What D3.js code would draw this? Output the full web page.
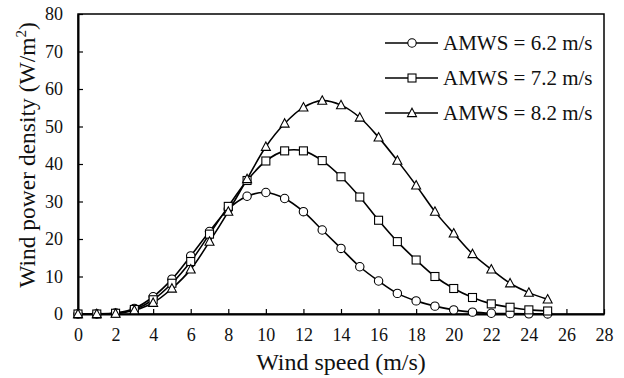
<!DOCTYPE html>
<html>
<head>
<meta charset="utf-8">
<script src="https://cdn.jsdelivr.net/npm/d3@7"></script>
</head>
<body style="margin:0">
<script>
// data ---------------------------------------------------------------------------------------
const windSpeed = [0, 1, 2, 3, 4, 5, 6, 7, 8, 9, 10, 11, 12, 13, 14, 15, 16, 17, 18, 19, 20, 21, 22, 23, 24, 25];
const amws62 = [0, 0, 0.3, 1.5, 4.6, 9.3, 15.5, 22, 28, 31.4, 32.4, 30.8, 27.3, 22.4, 17.5, 12.6, 8.8, 5.5, 3.5, 2.1, 1.1, 0.5, 0.2, 0.1, 0.05, 0.02];
const amws72 = [0, 0, 0.2, 1.2, 3.8, 8.2, 14, 21.3, 28.7, 35.6, 40.8, 43.5, 43.5, 40.9, 36.6, 31.2, 25, 19.3, 14.4, 10, 6.8, 4.4, 2.7, 1.8, 1.1, 0.8];
const amws82 = [0, 0, 0.1, 1.0, 3.0, 6.8, 11.9, 19.3, 27.3, 36, 44.6, 50.8, 55.1, 56.9, 55.7, 52.4, 47.1, 40.9, 34.3, 27.3, 21.5, 16, 11.9, 8.2, 5.7, 3.9];
const seriesNames = ['AMWS = 6.2 m/s', 'AMWS = 7.2 m/s', 'AMWS = 8.2 m/s'];
const markerTypes = ['circle', 'square', 'triangle'];
const xTicks = d3.range(0, 29, 2);
const yTicks = d3.range(0, 81, 10);
// --------------------------------------------------------------------------------------------
const width = 624;
const height = 378;
const margin = {left: 78, right: 20, top: 14, bottom: 64};
const serif = 'Liberation Serif';

const svg = d3.select('body').append('svg')
  .attr('width', width)
  .attr('height', height)
  .attr('font-family', serif);

const x = d3.scaleLinear().domain([0, 28]).range([margin.left, width - margin.right]);
const y = d3.scaleLinear().domain([0, 80]).range([height - margin.bottom, margin.top]);

// frame -----------------------------------------------------------------------------------
svg.append('rect')
  .attr('x', x(0))
  .attr('y', y(80))
  .attr('width', x(28) - x(0))
  .attr('height', y(0) - y(80))
  .attr('fill', 'none')
  .attr('stroke', '#000')
  .attr('stroke-width', 1.5);

// axes ------------------------------------------------------------------------------------
const xAxis = svg.append('g')
  .attr('transform', 'translate(0,' + y(0) + ')')
  .call(d3.axisBottom(x).tickValues(xTicks).tickSizeInner(-5).tickSizeOuter(0).tickPadding(14));
const yAxis = svg.append('g')
  .attr('transform', 'translate(' + x(0) + ',0)')
  .call(d3.axisLeft(y).tickValues(yTicks).tickSizeInner(-5).tickSizeOuter(0).tickPadding(15));
[xAxis, yAxis].forEach(a => {
  a.attr('font-family', serif).attr('font-size', 18);
  a.select('.domain').attr('stroke-width', 2);
  a.selectAll('.tick line').attr('stroke-width', 1.2);
  a.selectAll('.tick text')
    .attr('font-family', serif)
    .attr('font-size', 18)
    .attr('fill', '#111');
});

// lines -----------------------------------------------------------------------------------
const allSeries = [amws62, amws72, amws82];
const line = d3.line()
  .x((d, i) => x(windSpeed[i]))
  .y(d => y(d))
  .curve(d3.curveCatmullRom.alpha(0.5));

const drawMarker = (g, type, cx, cy) => {
  if (type === 'circle') {
    g.append('circle').attr('cx', cx).attr('cy', cy).attr('r', 4.2);
  } else if (type === 'square') {
    g.append('rect').attr('x', cx - 4).attr('y', cy - 4).attr('width', 8).attr('height', 8);
  } else {
    g.append('path').attr('d', 'M' + cx + ',' + (cy - 4.8) + 'L' + (cx + 4.5) + ',' + (cy + 3.6) + 'L' + (cx - 4.5) + ',' + (cy + 3.6) + 'Z');
  }
};

allSeries.forEach(vals => {
  svg.append('path')
    .datum(vals)
    .attr('d', line)
    .attr('fill', 'none')
    .attr('stroke', '#000')
    .attr('stroke-width', 1.6);
});
allSeries.forEach((vals, s) => {
  const mg = svg.append('g').attr('fill', '#fff').attr('stroke', '#000').attr('stroke-width', 1.1);
  vals.forEach((v, i) => drawMarker(mg, markerTypes[s], x(windSpeed[i]), y(v)));
});

// legend ----------------------------------------------------------------------------------
const legend = svg.append('g');
seriesNames.forEach((name, i) => {
  const ly = 43 + i * 35;
  legend.append('line')
    .attr('x1', 385).attr('x2', 438)
    .attr('y1', ly).attr('y2', ly)
    .attr('stroke', '#000').attr('stroke-width', 1.6);
  const mg = legend.append('g').attr('fill', '#fff').attr('stroke', '#000').attr('stroke-width', 1.1);
  drawMarker(mg, markerTypes[i], 412, ly);
  legend.append('text')
    .attr('x', 443)
    .attr('y', ly + 7)
    .attr('font-family', serif)
    .attr('font-size', 21)
    .attr('fill', '#111')
    .text(name);
});

// axis titles --------------------------------------------------------------------------------
svg.append('text')
  .attr('x', (x(0) + x(28)) / 2)
  .attr('y', 370)
  .attr('text-anchor', 'middle')
  .attr('font-family', serif)
  .attr('font-size', 24)
  .attr('fill', '#111')
  .text('Wind speed (m/s)');

const yTitle = svg.append('text')
  .attr('transform', 'translate(35,155) rotate(-90)')
  .attr('text-anchor', 'middle')
  .attr('font-family', serif)
  .attr('font-size', 23.5)
  .attr('fill', '#111');
yTitle.append('tspan').text('Wind power density (W/m');
yTitle.append('tspan').attr('dy', -9).attr('font-size', 15).text('2');
yTitle.append('tspan').attr('dy', 9).text(')');
</script>
</body>
</html>
